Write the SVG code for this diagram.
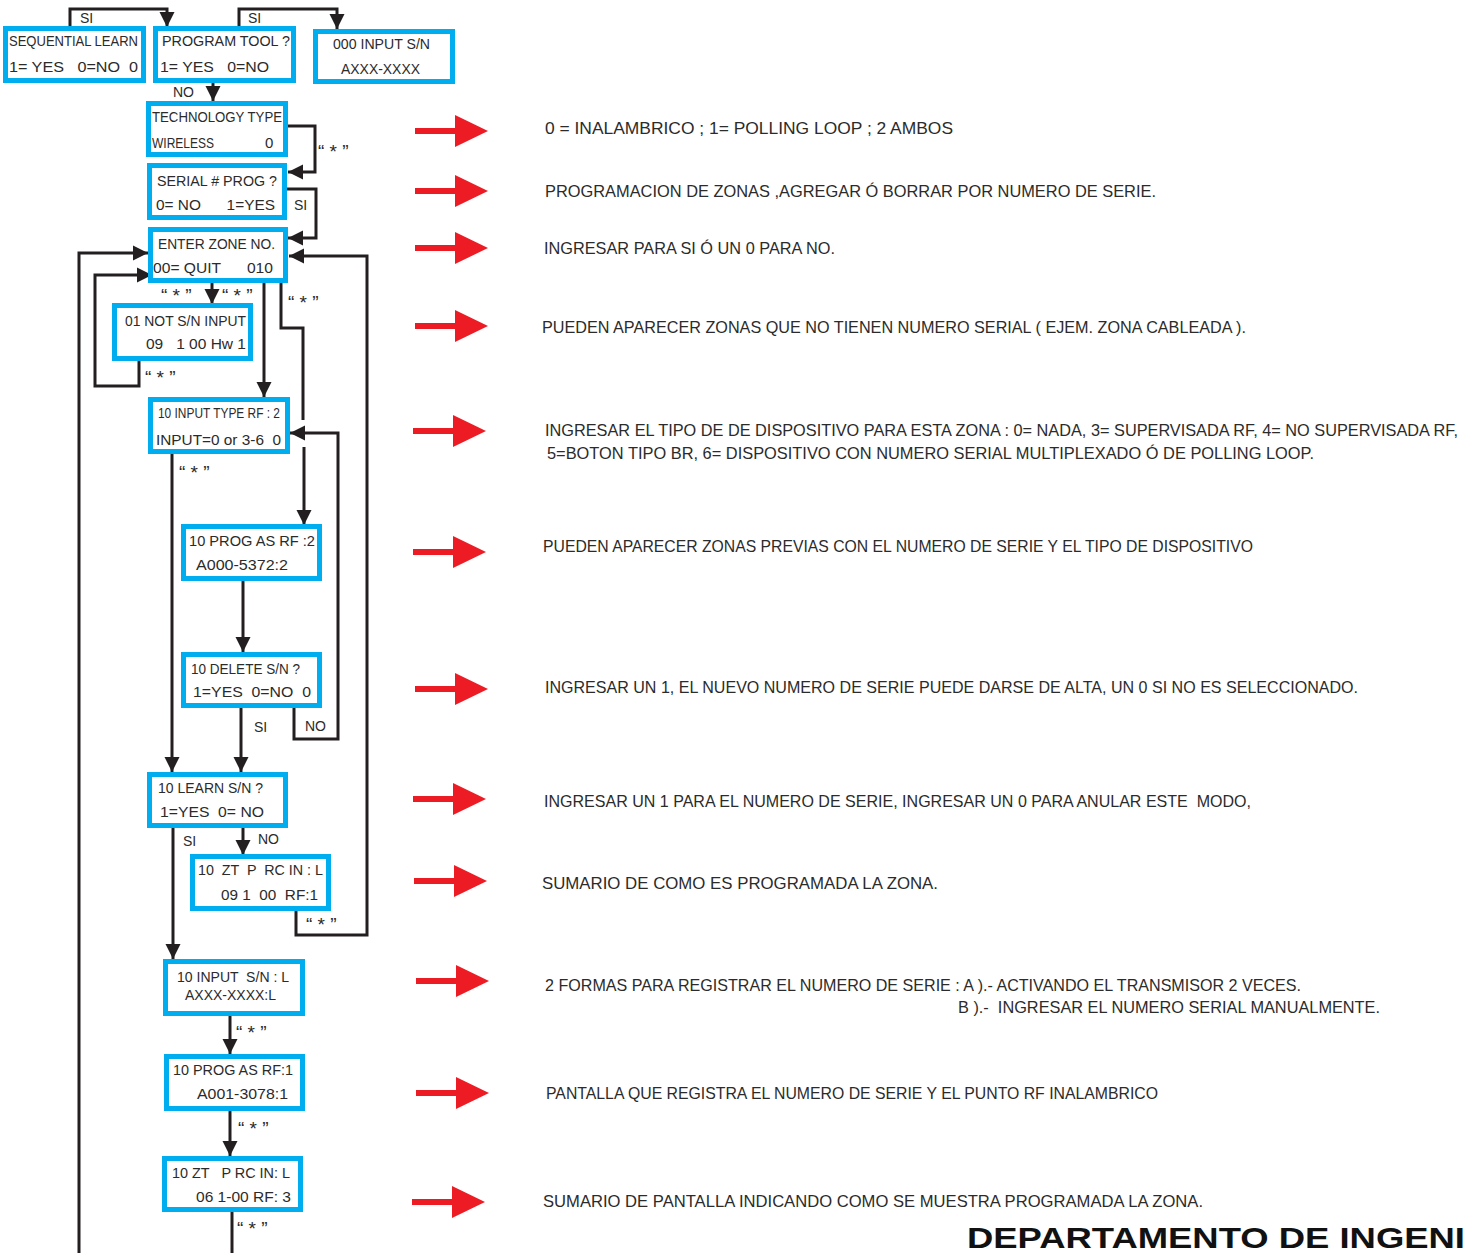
<svg xmlns="http://www.w3.org/2000/svg" xmlns:xlink="http://www.w3.org/1999/xlink" width="1473" height="1253" viewBox="0 0 1473 1253">
<style>
.box{fill:#fff;stroke:#00AEEF;stroke-width:5}
.nt{font-family:"Liberation Sans",Arial,sans-serif;font-size:15px;fill:#2b2b2b}
.lb{font-family:"Liberation Sans",Arial,sans-serif;font-size:14px;fill:#2b2b2b}
.st{font-family:"Liberation Sans",Arial,sans-serif;font-size:19px;fill:#2b2b2b}
.rt{font-family:"Liberation Sans",Arial,sans-serif;font-size:16.5px;fill:#2b2b2b}
.ln{fill:none;stroke:#231f20;stroke-width:3}
.ar{marker-end:url(#ah)}
.red{fill:#ED1C24}
</style>
<defs>
<marker id="ah" viewBox="0 0 10 10" refX="10" refY="5" markerWidth="15" markerHeight="16" markerUnits="userSpaceOnUse" orient="auto">
<path d="M0,0 L10,5 L0,10 z" fill="#231f20"/>
</marker>
<path id="redArrow" d="M0,-3 L40,-3 L40,-16 L73,0 L40,16 L40,3 L0,3 z"/>
</defs>
<rect width="1473" height="1253" fill="#fff"/>

<g id="connectors">
<polyline class="ln ar" points="70,27 70,9 167,9 167,27"/>
<text class="lb" x="80" y="23">SI</text>
<polyline class="ln ar" points="239,27 239,9 337,9 337,29"/>
<text class="lb" x="248" y="23">SI</text>
<line class="ln ar" x1="213" y1="83" x2="213" y2="101"/>
<text class="lb" x="173" y="97">NO</text>
<polyline class="ln ar" points="288,126 315,126 315,172 288,172"/>
<text class="st" x="318" y="158" xml:space="preserve">“ * ”</text>
<polyline class="ln ar" points="287,189 316,189 316,238 288,238"/>
<text class="lb" x="294" y="210">SI</text>
<polyline class="ln ar" points="79,1253 79,253 148,253"/>
<polyline class="ln ar" points="139,361 139,386 95,386 95,275 152,275"/>
<text class="st" x="145" y="384" xml:space="preserve">“ * ”</text>
<line class="ln ar" x1="212" y1="283" x2="212" y2="304"/>
<text class="st" x="161" y="302" xml:space="preserve">“ * ”</text>
<text class="st" x="222" y="302" xml:space="preserve">“ * ”</text>
<line class="ln ar" x1="264" y1="283" x2="264" y2="397"/>
<polyline class="ln" points="281,283 281,328 303,328 303,420"/>
<line class="ln ar" x1="304" y1="447" x2="304" y2="525"/>
<text class="st" x="288" y="309" xml:space="preserve">“ * ”</text>
<polyline class="ln ar" points="296,911 296,935 367,935 367,256 289,256"/>
<text class="st" x="306" y="931" xml:space="preserve">“ * ”</text>
<polyline class="ln ar" points="294,708 294,739 338,739 338,433 290,433"/>
<text class="lb" x="305" y="731">NO</text>
<line class="ln ar" x1="172" y1="454" x2="172" y2="772"/>
<text class="st" x="179" y="479" xml:space="preserve">“ * ”</text>
<line class="ln ar" x1="243" y1="581" x2="243" y2="652"/>
<line class="ln ar" x1="241" y1="708" x2="241" y2="772"/>
<text class="lb" x="254" y="732">SI</text>
<line class="ln ar" x1="173" y1="828" x2="173" y2="959"/>
<text class="lb" x="183" y="846">SI</text>
<line class="ln ar" x1="243" y1="828" x2="243" y2="855"/>
<text class="lb" x="258" y="844">NO</text>
<line class="ln ar" x1="230" y1="1016" x2="230" y2="1054"/>
<text class="st" x="236" y="1039" xml:space="preserve">“ * ”</text>
<line class="ln ar" x1="230" y1="1111" x2="230" y2="1156"/>
<text class="st" x="238" y="1135" xml:space="preserve">“ * ”</text>
<line class="ln" x1="232" y1="1212" x2="232" y2="1253"/>
<text class="st" x="237" y="1235" xml:space="preserve">“ * ”</text>
</g>

<g id="n-seq"><rect class="box" x="5.5" y="28.5" width="138" height="52"/>
<text class="nt" x="9" y="46" textLength="129" lengthAdjust="spacingAndGlyphs">SEQUENTIAL LEARN</text>
<text class="nt" x="9" y="72" textLength="129" lengthAdjust="spacingAndGlyphs" xml:space="preserve">1= YES   0=NO  0</text></g>

<g id="n-prog"><rect class="box" x="155.5" y="28.5" width="138" height="52"/>
<text class="nt" x="162" y="46" textLength="128" lengthAdjust="spacingAndGlyphs">PROGRAM TOOL ?</text>
<text class="nt" x="160" y="72" textLength="109" lengthAdjust="spacingAndGlyphs" xml:space="preserve">1= YES   0=NO</text></g>

<g id="n-000"><rect class="box" x="315.5" y="31.5" width="137" height="50"/>
<text class="nt" x="333" y="49" textLength="97" lengthAdjust="spacingAndGlyphs">000 INPUT S/N</text>
<text class="nt" x="341" y="74" textLength="79" lengthAdjust="spacingAndGlyphs">AXXX-XXXX</text></g>

<g id="n-tech"><rect class="box" x="148.5" y="103.5" width="137" height="51"/>
<text class="nt" x="152" y="122" textLength="130" lengthAdjust="spacingAndGlyphs">TECHNOLOGY TYPE</text>
<text class="nt" x="152" y="148" textLength="62" lengthAdjust="spacingAndGlyphs">WIRELESS</text>
<text class="nt" x="265" y="148">0</text></g>

<g id="n-serial"><rect class="box" x="149.5" y="165.5" width="135" height="52"/>
<text class="nt" x="157" y="186" textLength="120" lengthAdjust="spacingAndGlyphs">SERIAL # PROG ?</text>
<text class="nt" x="156" y="210" textLength="119" lengthAdjust="spacingAndGlyphs" xml:space="preserve">0= NO      1=YES</text></g>

<g id="n-enter"><rect class="box" x="150.5" y="229.5" width="135" height="51"/>
<text class="nt" x="158" y="249" textLength="117" lengthAdjust="spacingAndGlyphs">ENTER ZONE NO.</text>
<text class="nt" x="153" y="273" textLength="120" lengthAdjust="spacingAndGlyphs" xml:space="preserve">00= QUIT      010</text></g>

<g id="n-notsn"><rect class="box" x="114.5" y="305.5" width="136" height="53"/>
<text class="nt" x="125" y="326" textLength="121" lengthAdjust="spacingAndGlyphs">01 NOT S/N INPUT</text>
<text class="nt" x="146" y="349" textLength="100" lengthAdjust="spacingAndGlyphs" xml:space="preserve">09   1 00 Hw 1</text></g>

<g id="n-inputtype"><rect class="box" x="150.5" y="399.5" width="137" height="52"/>
<text class="nt" x="158" y="418" font-size="13" textLength="122" lengthAdjust="spacingAndGlyphs">10 INPUT TYPE RF : 2</text>
<text class="nt" x="156" y="445" textLength="125" lengthAdjust="spacingAndGlyphs" xml:space="preserve">INPUT=0 or 3-6  0</text></g>

<g id="n-progas2"><rect class="box" x="183.5" y="526.5" width="136" height="52"/>
<text class="nt" x="189" y="546" textLength="126" lengthAdjust="spacingAndGlyphs">10 PROG AS RF :2</text>
<text class="nt" x="196" y="570" textLength="92" lengthAdjust="spacingAndGlyphs">A000-5372:2</text></g>

<g id="n-delete"><rect class="box" x="183.5" y="654.5" width="136" height="51"/>
<text class="nt" x="191" y="674" textLength="109" lengthAdjust="spacingAndGlyphs">10 DELETE S/N ?</text>
<text class="nt" x="193" y="697" textLength="118" lengthAdjust="spacingAndGlyphs" xml:space="preserve">1=YES  0=NO  0</text></g>

<g id="n-learn"><rect class="box" x="149.5" y="774.5" width="136" height="51"/>
<text class="nt" x="158" y="793" textLength="105" lengthAdjust="spacingAndGlyphs">10 LEARN S/N ?</text>
<text class="nt" x="160" y="817" textLength="104" lengthAdjust="spacingAndGlyphs" xml:space="preserve">1=YES  0= NO</text></g>

<g id="n-zt1"><rect class="box" x="192.5" y="856.5" width="136" height="52"/>
<text class="nt" x="198" y="875" textLength="125" lengthAdjust="spacingAndGlyphs" xml:space="preserve">10  ZT  P  RC IN : L</text>
<text class="nt" x="221" y="900" textLength="97" lengthAdjust="spacingAndGlyphs" xml:space="preserve">09 1  00  RF:1</text></g>

<g id="n-inputsn"><rect class="box" x="165.5" y="961.5" width="137" height="52"/>
<text class="nt" x="177" y="982" textLength="112" lengthAdjust="spacingAndGlyphs" xml:space="preserve">10 INPUT  S/N : L</text>
<text class="nt" x="185" y="1000" textLength="91" lengthAdjust="spacingAndGlyphs">AXXX-XXXX:L</text></g>

<g id="n-progas1"><rect class="box" x="166.5" y="1056.5" width="136" height="52"/>
<text class="nt" x="173" y="1075" textLength="120" lengthAdjust="spacingAndGlyphs">10 PROG AS RF:1</text>
<text class="nt" x="197" y="1099" textLength="91" lengthAdjust="spacingAndGlyphs">A001-3078:1</text></g>

<g id="n-zt2"><rect class="box" x="164.5" y="1158.5" width="136" height="51"/>
<text class="nt" x="172" y="1178" textLength="118" lengthAdjust="spacingAndGlyphs" xml:space="preserve">10 ZT   P RC IN: L</text>
<text class="nt" x="196" y="1202" textLength="95" lengthAdjust="spacingAndGlyphs">06 1-00 RF: 3</text></g>

<g id="red-arrows" class="red">
<use xlink:href="#redArrow" x="415" y="131"/>
<use xlink:href="#redArrow" x="415" y="191"/>
<use xlink:href="#redArrow" x="415" y="248"/>
<use xlink:href="#redArrow" x="415" y="326"/>
<use xlink:href="#redArrow" x="413" y="431"/>
<use xlink:href="#redArrow" x="413" y="552"/>
<use xlink:href="#redArrow" x="415" y="689"/>
<use xlink:href="#redArrow" x="413" y="799"/>
<use xlink:href="#redArrow" x="414" y="881"/>
<use xlink:href="#redArrow" x="416" y="981"/>
<use xlink:href="#redArrow" x="416" y="1093"/>
<use xlink:href="#redArrow" x="412" y="1202"/>
</g>

<g id="notes">
<text class="rt" x="545" y="134" textLength="408" lengthAdjust="spacingAndGlyphs">0 = INALAMBRICO ; 1= POLLING LOOP ; 2 AMBOS</text>
<text class="rt" x="545" y="197" textLength="611" lengthAdjust="spacingAndGlyphs">PROGRAMACION DE ZONAS ,AGREGAR Ó BORRAR POR NUMERO DE SERIE.</text>
<text class="rt" x="544" y="254" textLength="291" lengthAdjust="spacingAndGlyphs">INGRESAR PARA SI Ó UN 0 PARA NO.</text>
<text class="rt" x="542" y="333" textLength="704" lengthAdjust="spacingAndGlyphs">PUEDEN APARECER ZONAS QUE NO TIENEN NUMERO SERIAL ( EJEM. ZONA CABLEADA ).</text>
<text class="rt" x="545" y="436" textLength="913" lengthAdjust="spacingAndGlyphs">INGRESAR EL TIPO DE DE DISPOSITIVO PARA ESTA ZONA : 0= NADA, 3= SUPERVISADA RF, 4= NO SUPERVISADA RF,</text>
<text class="rt" x="547" y="459" textLength="767" lengthAdjust="spacingAndGlyphs">5=BOTON TIPO BR, 6= DISPOSITIVO CON NUMERO SERIAL MULTIPLEXADO Ó DE POLLING LOOP.</text>
<text class="rt" x="543" y="552" textLength="710" lengthAdjust="spacingAndGlyphs">PUEDEN APARECER ZONAS PREVIAS CON EL NUMERO DE SERIE Y EL TIPO DE DISPOSITIVO</text>
<text class="rt" x="545" y="693" textLength="813" lengthAdjust="spacingAndGlyphs">INGRESAR UN 1, EL NUEVO NUMERO DE SERIE PUEDE DARSE DE ALTA, UN 0 SI NO ES SELECCIONADO.</text>
<text class="rt" x="544" y="807" textLength="707" lengthAdjust="spacingAndGlyphs" xml:space="preserve">INGRESAR UN 1 PARA EL NUMERO DE SERIE, INGRESAR UN 0 PARA ANULAR ESTE  MODO,</text>
<text class="rt" x="542" y="889" textLength="396" lengthAdjust="spacingAndGlyphs">SUMARIO DE COMO ES PROGRAMADA LA ZONA.</text>
<text class="rt" x="545" y="991" textLength="756" lengthAdjust="spacingAndGlyphs">2 FORMAS PARA REGISTRAR EL NUMERO DE SERIE : A ).- ACTIVANDO EL TRANSMISOR 2 VECES.</text>
<text class="rt" x="958" y="1013" textLength="422" lengthAdjust="spacingAndGlyphs" xml:space="preserve">B ).-  INGRESAR EL NUMERO SERIAL MANUALMENTE.</text>
<text class="rt" x="546" y="1099" textLength="612" lengthAdjust="spacingAndGlyphs">PANTALLA QUE REGISTRA EL NUMERO DE SERIE Y EL PUNTO RF INALAMBRICO</text>
<text class="rt" x="543" y="1207" textLength="660" lengthAdjust="spacingAndGlyphs">SUMARIO DE PANTALLA INDICANDO COMO SE MUESTRA PROGRAMADA LA ZONA.</text>
<text x="967" y="1248" font-family="Liberation Sans, Arial, sans-serif" font-weight="bold" font-size="30" fill="#111" textLength="498" lengthAdjust="spacingAndGlyphs">DEPARTAMENTO DE INGENI</text>
</g>
</svg>
